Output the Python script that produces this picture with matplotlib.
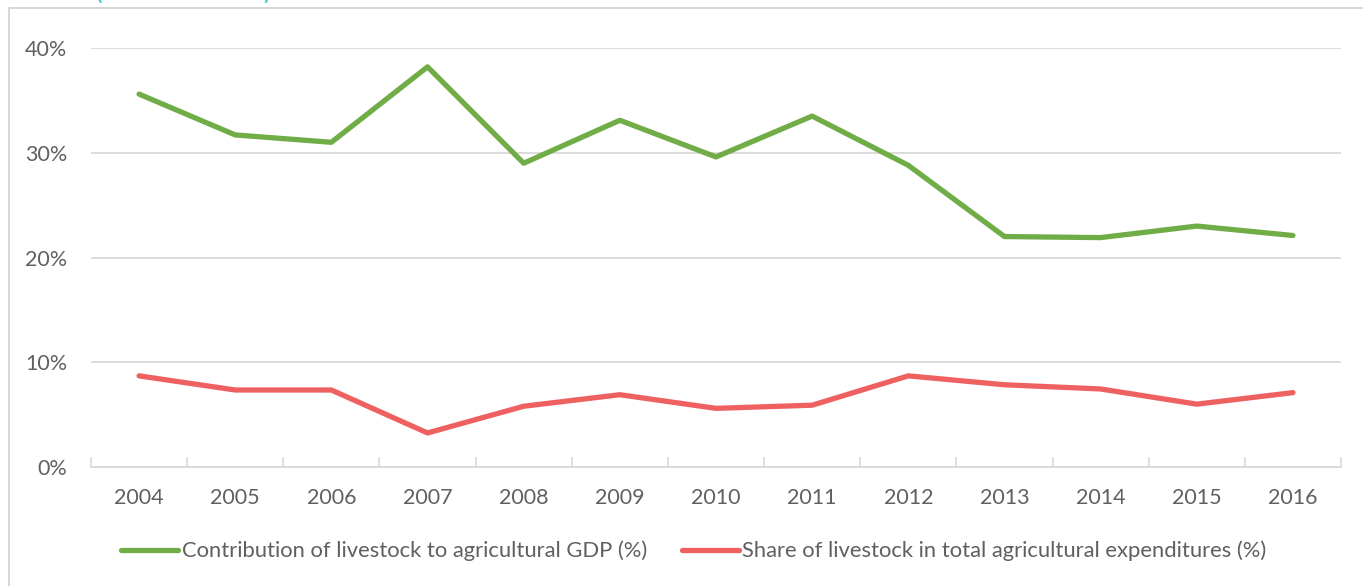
import matplotlib
matplotlib.use("Agg")
import matplotlib.pyplot as plt
from matplotlib.patches import Rectangle
from matplotlib.ticker import FixedLocator, FuncFormatter

years = ["2004", "2005", "2006", "2007", "2008", "2009", "2010",
         "2011", "2012", "2013", "2014", "2015", "2016"]
gdp_share = [35.6, 31.7, 31.0, 38.2, 29.0, 33.1, 29.6, 33.5, 28.8, 22.0, 21.9, 23.0, 22.1]
exp_share = [8.7, 7.35, 7.35, 3.25, 5.8, 6.9, 5.6, 5.9, 8.7, 7.85, 7.45, 6.0, 7.1]
label_gdp = "Contribution of livestock to agricultural GDP (%)"
label_exp = "Share of livestock in total agricultural expenditures (%)"
yticks = [0, 10, 20, 30, 40]

W, H = 1363, 586
plt.rcParams['font.family'] = ['Lato', 'DejaVu Sans']
fig = plt.figure(figsize=(W / 100, H / 100), dpi=100)

# outer frame
fig.patches.append(Rectangle((9 / W, -0.1), 1.2, 1.1 - 8 / H, transform=fig.transFigure,
                             fill=False, edgecolor="#D0D0D0", linewidth=1.2))
# cut-off title at top
fig.text(95 / W, 1 + 1 / H, "(2004 - 2016)", color="#4BC3C8", fontsize=21,
         ha="left", va="baseline")

ax = fig.add_axes([91 / W, (H - 467) / H, 1250 / W, 419 / H])
x = list(range(len(years)))
ax.plot(x, gdp_share, color="#70AD47", linewidth=3.8, solid_capstyle="round",
        solid_joinstyle="round", label=label_gdp)
ax.plot(x, exp_share, color="#EF6161", linewidth=3.8, solid_capstyle="round",
        solid_joinstyle="round", label=label_exp)

ax.set_xlim(-0.5, len(years) - 0.5)
ax.set_ylim(0, 40)
ax.set_xticks(x)
ax.set_xticklabels(years)
ax.xaxis.set_minor_locator(FixedLocator([i - 0.5 for i in range(len(years) + 1)]))
ax.tick_params(axis="x", which="major", length=0, pad=15, labelsize=15.5, labelcolor="#606060")
ax.tick_params(axis="x", which="minor", length=7, width=1.2, direction="in", color="#D9D9D9")
ax.set_yticks(yticks)
ax.yaxis.set_major_formatter(FuncFormatter(lambda v, p: f"{int(v)}%"))
ax.tick_params(axis="y", length=0, pad=17, labelsize=15.5, labelcolor="#606060")
ax.grid(axis="y", color="#D9D9D9", linewidth=1.3)
ax.set_axisbelow(True)
for s in ["top", "right", "left"]:
    ax.spines[s].set_visible(False)
ax.spines["bottom"].set_color("#D9D9D9")
ax.spines["bottom"].set_linewidth(1.3)
ax.spines["bottom"].set_zorder(1)

leg = fig.legend(loc="center", bbox_to_anchor=(694 / W, 1 - 551 / H), ncol=2, frameon=False,
                 fontsize=15.8, handlelength=2.6, handletextpad=0.15, columnspacing=1.6,
                 labelcolor="#606060")
fig.savefig("out.png", dpi=100)
